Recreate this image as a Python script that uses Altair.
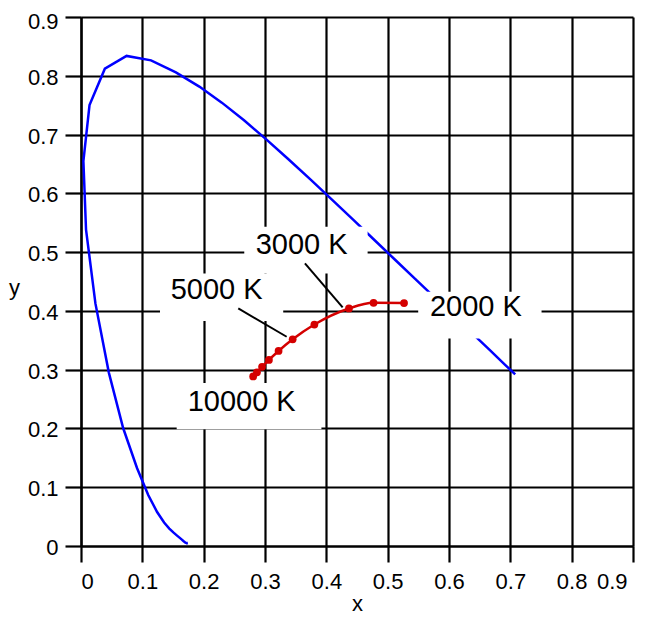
import altair as alt
import pandas as pd

# CIE 1931 spectral locus, 380-630 nm (5 nm steps)
locus_nm = list(range(380, 631, 5))
locus_x = [0.1741, 0.1740, 0.1738, 0.1736, 0.1733, 0.1730, 0.1726, 0.1721, 0.1714, 0.1703,
           0.1689, 0.1669, 0.1644, 0.1611, 0.1566, 0.1510, 0.1440, 0.1355, 0.1241, 0.1096,
           0.0913, 0.0687, 0.0454, 0.0235, 0.0082, 0.0039, 0.0139, 0.0389, 0.0743, 0.1142,
           0.1547, 0.1929, 0.2296, 0.2658, 0.3016, 0.3373, 0.3731, 0.4087, 0.4441, 0.4788,
           0.5125, 0.5448, 0.5752, 0.6029, 0.6270, 0.6482, 0.6658, 0.6801, 0.6915, 0.7006,
           0.7079]
locus_y = [0.0050, 0.0050, 0.0049, 0.0049, 0.0048, 0.0048, 0.0048, 0.0048, 0.0051, 0.0058,
           0.0069, 0.0086, 0.0109, 0.0138, 0.0177, 0.0227, 0.0297, 0.0399, 0.0578, 0.0868,
           0.1327, 0.2007, 0.2950, 0.4127, 0.5384, 0.6548, 0.7502, 0.8120, 0.8338, 0.8262,
           0.8059, 0.7816, 0.7543, 0.7243, 0.6923, 0.6589, 0.6245, 0.5896, 0.5547, 0.5202,
           0.4866, 0.4544, 0.4242, 0.3965, 0.3725, 0.3514, 0.3340, 0.3197, 0.3083, 0.2993,
           0.2920]

# Planckian locus
temp_K = [2000, 2500, 3000, 4000, 5000, 6000, 7000, 8000, 9000, 10000]
planck_x = [0.5267, 0.4770, 0.4369, 0.3805, 0.3451, 0.3221, 0.3064, 0.2952, 0.2869, 0.2807]
planck_y = [0.4133, 0.4137, 0.4041, 0.3768, 0.3516, 0.3318, 0.3166, 0.3048, 0.2956, 0.2884]

# Labels (anchor positions in data units) and their white boxes
label_text = ["3000 K", "5000 K", "2000 K", "10000 K"]
label_x = [0.2848, 0.1462, 0.5689, 0.1739]
label_y = [0.5119, 0.4347, 0.4061, 0.2454]
box_x1 = [0.2662, 0.1288, 0.5498, 0.1560]
box_x2 = [0.4673, 0.3297, 0.7509, 0.3920]
box_y1 = [0.4638, 0.3827, 0.3532, 0.1985]
box_y2 = [0.5430, 0.4638, 0.4325, 0.2772]

# Leader lines
leader_x1 = [0.3651, 0.2564]
leader_y1 = [0.4808, 0.4042]
leader_x2 = [0.4266, 0.3353]
leader_y2 = [0.4059, 0.3560]

ticks = [0, 0.1, 0.2, 0.3, 0.4, 0.5, 0.6, 0.7, 0.8, 0.9]

locus_df = pd.DataFrame({"nm": locus_nm, "x": locus_x, "y": locus_y})
planck_df = pd.DataFrame({"T": temp_K, "x": planck_x, "y": planck_y})
box_df = pd.DataFrame({"text": label_text, "tx": label_x, "ty": label_y,
                       "x1": box_x1, "x2": box_x2, "y1": box_y1, "y2": box_y2})
leader_df = pd.DataFrame({"x1": leader_x1, "y1": leader_y1, "x2": leader_x2, "y2": leader_y2})

FONT = "Liberation Sans"
xs = alt.Scale(domain=[0, 0.9], nice=False, zero=False)
ys = alt.Scale(domain=[0, 0.9], nice=False, zero=False)
common_axis = dict(values=ticks, format=".1~f", grid=True, gridColor="black", gridWidth=2.2,
                   gridOpacity=1, domainColor="black", domainWidth=2.2, tickColor="black",
                   tickSize=16, tickWidth=2.2, labelFont=FONT, labelFontSize=22,
                   labelColor="black", titleFont=FONT, titleFontSize=22,
                   titleFontWeight="normal", titleColor="black")
xaxis = alt.Axis(title="x", labelPadding=9, titleY=69, titleBaseline="bottom",
                 labelOffset={"condition": {"test": "datum.value >= 0.85", "value": -6},
                              "value": 0},
                 **common_axis)
yaxis = alt.Axis(title="y", labelPadding=7,
                 labelOffset={"condition": {"test": "datum.value >= 0.85", "value": 4},
                              "value": 1.5},
                 titleAngle=0, titleX=-67,
                 titleY=270, titleAlign="center", titleBaseline="middle", **common_axis)


def X(f):
    return alt.X(f, type="quantitative", scale=xs, axis=xaxis)


def Y(f):
    return alt.Y(f, type="quantitative", scale=ys, axis=yaxis)


blue = alt.Chart(locus_df).mark_line(color="#0000ff", strokeWidth=2.5).encode(
    x=X("x"), y=Y("y"), order="nm:Q")
red_line = alt.Chart(planck_df).mark_line(color="#d40000", strokeWidth=2.5,
                                          interpolate="monotone").encode(x=X("x"), y=Y("y"))
red_pts = alt.Chart(planck_df).mark_circle(color="#d40000", size=60, opacity=1).encode(
    x=X("x"), y=Y("y"))
boxes = alt.Chart(box_df).mark_rect(color="white").encode(
    x=X("x1"), x2="x2", y=Y("y1"), y2="y2")
leaders = alt.Chart(leader_df).mark_rule(color="black", strokeWidth=2).encode(
    x=X("x1"), y=Y("y1"), x2="x2", y2="y2")
labels = alt.Chart(box_df).mark_text(align="left", baseline="middle", font=FONT,
                                     fontSize=29, color="black").encode(
    x=X("tx"), y=Y("ty"), text="text")

chart = alt.layer(blue, red_line, red_pts, boxes, leaders, labels).properties(
    width=552, height=529,
    autosize=alt.AutoSizeParams(type="none"),
    padding={"left": 73, "top": 9, "right": 9, "bottom": 70},
    background="white",
).configure_view(stroke=None)

chart.save("out.html", embed_options={"renderer": "svg", "actions": False})
